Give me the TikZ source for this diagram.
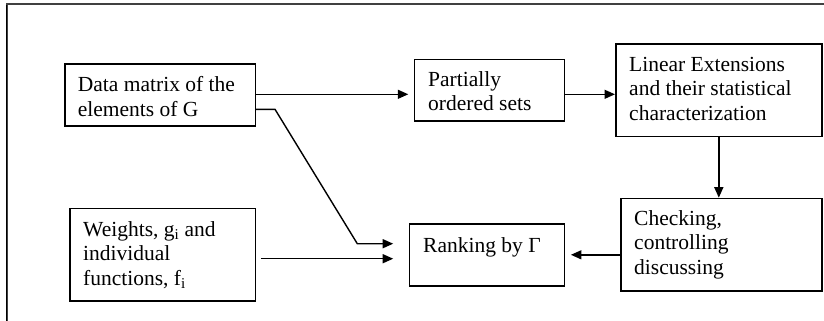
\documentclass[tikz,border=0pt]{standalone}
\usepackage{fontspec}
\setmainfont{Liberation Serif}
\usetikzlibrary{arrows.meta}
\begin{document}
\begin{tikzpicture}[x=1pt,y=-1pt,
  box/.style={draw=black,line width=1.6pt,inner sep=0pt},
  lbl/.style={anchor=base west,inner sep=0pt,font=\fontsize{21.5}{24.7}\selectfont},
  link/.style={draw=black,line width=1.4pt,-{Triangle[length=10.5pt,width=9pt]}}]
\useasboundingbox (0,0) rectangle (824,321);
% outer frame (only its top and left sides are in view)
\draw[black!75,line width=2pt] (6.5,321) -- (6.5,4.5) -- (824,4.5);
\draw[black,line width=1.8pt] (6.5,321) -- (6.5,5.5);

% boxes
\node[box,anchor=north west,minimum width=190.5pt,minimum height=61.7pt] (data) at (64,63.3) {};
\node[box,anchor=north west,minimum width=185.5pt,minimum height=92.5pt] (weights) at (69,207.5) {};
\node[box,anchor=north west,minimum width=150pt,minimum height=61.3pt] (partial) at (413.7,58.7) {};
\node[box,anchor=north west,minimum width=206pt,minimum height=92.7pt] (linear) at (615,43) {};
\node[box,anchor=north west,minimum width=201pt,minimum height=92.3pt] (check) at (620,197.7) {};
\node[box,anchor=north west,minimum width=155pt,minimum height=62pt] (rank) at (408.7,223) {};

% box texts
\node[lbl] (data-t) at ([xshift=13.7pt,yshift=-28.3pt]data.north west)
  {\parbox[t]{190pt}{\raggedright Data matrix of the\\elements of G}};
\node[lbl] (weights-t) at ([xshift=14pt,yshift=-28.5pt]weights.north west)
  {\parbox[t]{190pt}{\raggedright Weights, g\textsubscript{i} and\\individual\\functions, f\textsubscript{i}}};
\node[lbl] (partial-t) at ([xshift=14.3pt,yshift=-27.5pt]partial.north west)
  {\parbox[t]{150pt}{\raggedright Partially\\ordered sets}};
\node[lbl] (linear-t) at ([xshift=14pt,yshift=-28pt]linear.north west)
  {\parbox[t]{200pt}{\raggedright Linear Extensions\\and their statistical\\characterization}};
\node[lbl] (check-t) at ([xshift=14pt,yshift=-27.5pt]check.north west)
  {\parbox[t]{200pt}{\raggedright Checking,\\controlling\\discussing}};
\node[lbl] (rank-t) at ([xshift=14.3pt,yshift=-29pt]rank.north west)
  {Ranking by Γ};

% connector routing points
\coordinate (row) at (0,94.3);
\coordinate (dstart) at (254.5,109.3);
\coordinate (dknee) at (275,109.3);
\coordinate (dbend) at (357.3,243.7);
\coordinate (wrow) at (0,258.7);

% connectors
\draw[link,shorten >=5.4pt] (data.east |- row) -- (partial.west |- row);
\draw[link,shorten >=15.5pt] (data.east |- dstart) -- (dknee) -- (dbend) -- (rank.west |- dbend);
\draw[link,shorten <=4.8pt,shorten >=15.5pt] (weights.east |- wrow) -- (rank.west |- wrow);
\draw[link] (partial.east |- row) -- (linear.west |- row);
\draw[link] (linear.south) -- (linear.south |- check.north);
\draw[link,shorten >=5.6pt] (check.west |- rank.east) -- (rank.east);
\end{tikzpicture}
\end{document}
